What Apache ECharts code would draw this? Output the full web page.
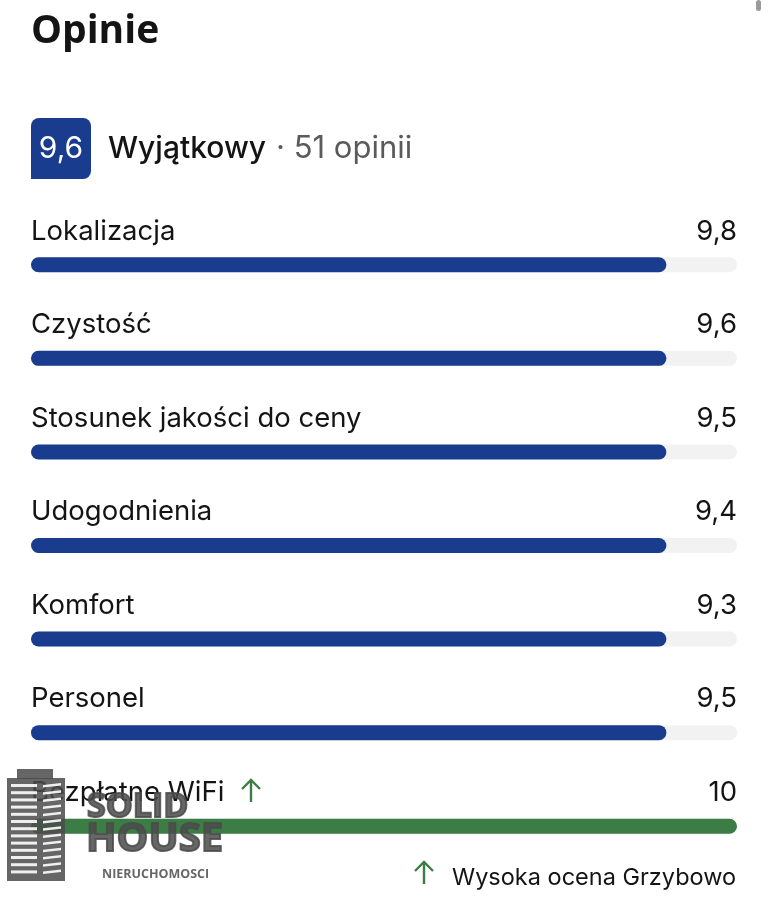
<!DOCTYPE html>
<html>
<head>
<meta charset="utf-8">
<script src="https://cdn.jsdelivr.net/npm/echarts@6/dist/echarts.min.js"></script>
<style>
html,body{margin:0;padding:0;background:#fff;}
#c{width:768px;height:897px;}
</style>
</head>
<body>
<div id="c"></div>
<script>
const categories = ['Lokalizacja','Czystość','Stosunek jakości do ceny','Udogodnienia','Komfort','Personel','Bezpłatne WiFi'];
const scores = ['9,8','9,6','9,5','9,4','9,3','9,5','10'];
const fillValues = [9.0, 9.0, 9.0, 9.0, 9.0, 9.0, 10];
const trackMax = [10, 10, 10, 10, 10, 10, 10];
const highlighted = [false, false, false, false, false, false, true];
const overallScore = '9,6';
const overallWord = 'Wyjątkowy';
const reviewCount = '· 51 opinii';

const BLUE = '#1a3c8f';
const GREEN = '#3b7d44';
const FONT = 'Inter, "Noto Sans", sans-serif';

const chart = echarts.init(document.getElementById('c'), null, {renderer:'canvas'});

const wmColor = 'rgba(75,75,75,0.85)';
const building = [];
building.push({type:'rect', shape:{x:17,y:769,width:36,height:10}, style:{fill:wmColor}, z:100});
building.push({type:'rect', shape:{x:7,y:778,width:58,height:103}, style:{fill:wmColor}, z:100});
for (let i = 0; i < 13; i++) {
  const y = 784 + i * 7.2;
  building.push({type:'rect', shape:{x:11,y:y,width:26,height:3}, style:{fill:'rgba(255,255,255,0.9)'}, z:101});
  building.push({type:'polygon', shape:{points:[[43,y+1],[61,y-1],[61,y+1.5],[43,y+3.5]]}, style:{fill:'rgba(255,255,255,0.9)'}, z:101});
}

function arrow(cx, top, bottom) {
  return [
    {type:'line', shape:{x1:cx,y1:top,x2:cx,y2:bottom}, style:{stroke:GREEN,lineWidth:2.4}, z:50},
    {type:'polyline', shape:{points:[[cx-9,top+9],[cx,top],[cx+9,top+9]]}, style:{stroke:GREEN,lineWidth:2.4,fill:null}, z:50}
  ];
}

chart.setOption({
  animation:false,
  grid:{left:31, right:31, top:218, bottom:24, containLabel:false},
  xAxis:{type:'value', min:0, max:10, show:false},
  yAxis:{type:'category', data:categories, inverse:true, show:false},
  series:[
    {
      type:'bar', data:trackMax, barWidth:15, silent:true,
      itemStyle:{color:'#f2f2f2', borderRadius:7.5},
      label:{
        show:true, position:['100%', -26], align:'right', verticalAlign:'middle',
        formatter:p => scores[p.dataIndex],
        fontFamily:FONT, fontSize:27.5, color:'#141414'
      }
    },
    {
      type:'bar', data:fillValues.map((v,i)=>({value:v, itemStyle:{color: highlighted[i] ? GREEN : BLUE}})),
      barWidth:15, barGap:'-100%', silent:true,
      itemStyle:{borderRadius:7.5},
      label:{
        show:true, position:[0, -26], align:'left', verticalAlign:'middle',
        formatter:p => categories[p.dataIndex],
        fontFamily:FONT, fontSize:27.5, color:'#141414'
      }
    }
  ],
  graphic:[
    {type:'text', left:31, top:12, style:{text:'Opinie', font:'bold 39px "Open Sans", sans-serif', fill:'#141414'}},
    {type:'rect', shape:{x:31,y:118,width:60,height:61,r:[8,8,8,0]}, style:{fill:BLUE}},
    {type:'text', x:61, y:149, style:{text:overallScore, font:'30px '+FONT, fill:'#fff', align:'center', verticalAlign:'middle'}},
    {type:'text', x:108, y:149, style:{text:overallWord, font:'500 30px '+FONT, fill:'#141414', verticalAlign:'middle'}},
    {type:'text', x:276, y:149, style:{text:reviewCount, font:'31px '+FONT, fill:'#5a5a5a', verticalAlign:'middle'}},
    ...arrow(251, 780, 802),
    ...arrow(424, 862, 884),
    {type:'text', x:452, y:878, style:{text:'Wysoka ocena Grzybowo', font:'23.5px '+FONT, fill:'#141414', verticalAlign:'middle'}},
    {type:'rect', shape:{x:756,y:0,width:5,height:11,r:2.5}, style:{fill:'#9a9a9a'}},
    ...building,
    {type:'text', x:87, y:807, z:100, style:{text:'SOLID', font:'bold 34px "Open Sans", sans-serif', fill:wmColor, stroke:wmColor, lineWidth:2, verticalAlign:'middle'}},
    {type:'text', x:86, y:840, z:100, style:{text:'HOUSE', font:'bold 40px "Open Sans", sans-serif', fill:wmColor, stroke:wmColor, lineWidth:2, verticalAlign:'middle'}},
    {type:'text', x:102, y:874, z:100, style:{text:'NIERUCHOMOSCI', font:'bold 12.5px "Open Sans", sans-serif', fill:wmColor, verticalAlign:'middle'}}
  ]
});
</script>
</body>
</html>
